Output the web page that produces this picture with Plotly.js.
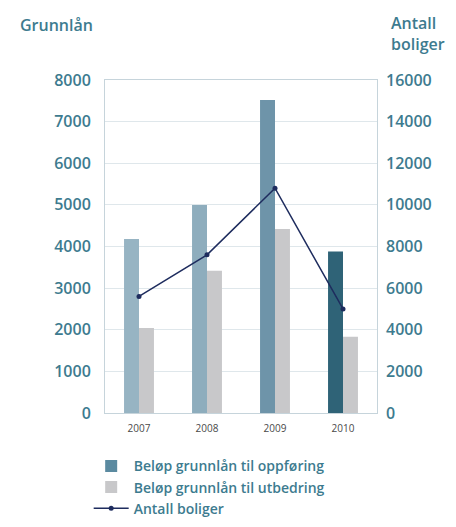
<!DOCTYPE html>
<html><head><meta charset="utf-8">
<script src="https://cdn.plot.ly/plotly-3.0.1.min.js"></script>
<style>html,body{margin:0;padding:0;background:#fff}#c{width:456px;height:527px}</style>
</head><body><div id="c"></div>
<script>
const years = ['2007','2008','2009','2010'];
const oppforing = [4180, 5000, 7520, 3880];
const utbedring = [2040, 3420, 4420, 1830];
const antallBoliger = [5600, 7600, 10800, 5000];
const oppforingColors = ['#97b4c3', '#8eadbd', '#6e94a9', '#2f6377'];
const leftTicks = [0,1000,2000,3000,4000,5000,6000,7000,8000];
const rightTicks = [0,2000,4000,6000,8000,10000,12000,14000,16000];

const teal = '#3d7b8f';
const font = 'Open Sans, sans-serif';
const W = 0.22;

const traces = [
  {type:'bar', x:years, y:oppforing, width:W, offset:-W, marker:{color:oppforingColors}, showlegend:false, hoverinfo:'none'},
  {type:'bar', x:years, y:utbedring, width:W, offset:0, marker:{color:'#c8c8ca'}, showlegend:false, hoverinfo:'none'},
  {type:'bar', x:[null], y:[null], width:W, offset:0, marker:{color:'#5b8aa0'}, name:'Beløp grunnlån til oppføring'},
  {type:'bar', x:[null], y:[null], width:W, offset:0, marker:{color:'#c8c8ca'}, name:'Beløp grunnlån til utbedring'},
  {type:'scatter', mode:'lines+markers', x:years, y:antallBoliger, yaxis:'y2', name:'Antall boliger',
   line:{color:'#1e2c5e', width:1.5}, marker:{color:'#1e2c5e', size:5}}
];

const layout = {
  width:456, height:527,
  margin:{l:105, r:79, t:80, b:114, autoexpand:false},
  paper_bgcolor:'#fff', plot_bgcolor:'#fff',
  font:{family:font, color:teal},
  showlegend:true,
  legend:{x:-0.06, y:-0.112, xanchor:'left', yanchor:'top', bgcolor:'rgba(0,0,0,0)',
    font:{size:14, color:teal, family:font, weight:600}, tracegroupgap:0, itemwidth:35},
  xaxis:{type:'category', categoryorder:'array', categoryarray:years, range:[-0.5,3.5],
    showline:true, linecolor:'#c6d4db', linewidth:1, mirror:true, ticks:'', ticklabelstandoff:6,
    tickfont:{size:10, color:'#4a4a4a', family:font}, showgrid:false, fixedrange:true},
  yaxis:{range:[0,8000], tickvals:leftTicks, ticktext:leftTicks.map(String),
    showgrid:true, gridcolor:'#dfe7eb', gridwidth:1, showline:true, linecolor:'#c6d4db', mirror:true,
    ticks:'', ticklabelstandoff:10, zeroline:false,
    tickfont:{size:16, color:teal, family:font, weight:600}},
  yaxis2:{range:[0,16000], tickvals:rightTicks, ticktext:rightTicks.map(String), overlaying:'y', side:'right',
    showgrid:false, zeroline:false, showline:false, ticks:'', ticklabelstandoff:8,
    tickfont:{size:16, color:teal, family:font, weight:600}},
  annotations:[
    {text:'Grunnlån', xref:'paper', yref:'paper', x:-0.32, y:1.165, xanchor:'left', yanchor:'middle', showarrow:false,
     font:{size:16, color:teal, family:font, weight:600}},
    {text:'Antall<br>boliger', xref:'paper', yref:'paper', x:1.045, y:1.14, xanchor:'left', yanchor:'middle', align:'left', showarrow:false,
     font:{size:16, color:teal, family:font, weight:600}}
  ]
};
Plotly.newPlot('c', traces, layout, {staticPlot:true});
</script></body></html>
